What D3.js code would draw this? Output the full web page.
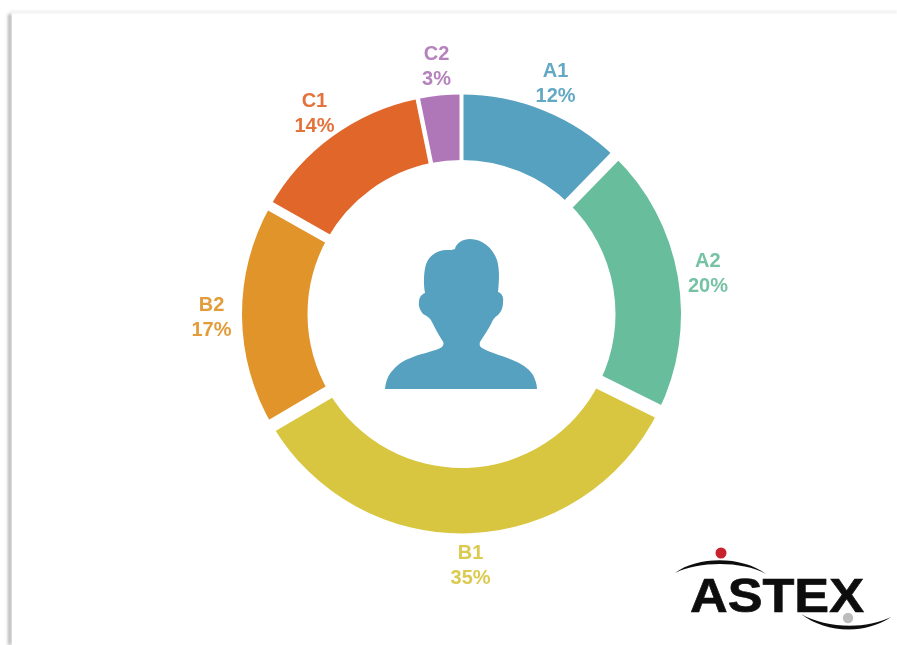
<!DOCTYPE html>
<html><head><meta charset="utf-8">
<script src="https://cdn.jsdelivr.net/npm/d3@7"></script>
<style>html,body{margin:0;padding:0;background:#fff;overflow:hidden}svg{display:block}</style>
</head><body><svg id="c" width="897" height="645"></svg>
<script>
const categories = ["A1","A2","B1","B2","C1","C2"];
const percentLabels = [12,20,35,17,14,3];
const sliceSpans = [12.28,20.03,34.22,16.64,13.64,3.19];
const colours = ["#57a1c0","#68bd9c","#d8c640","#e09429","#e1662b","#b077b8"];
const trailingGaps = [11,14,13,9.5,4.5,4];
const logoWord = "ASTEX";

const svg = d3.select("#c");
const defs = svg.append("defs");
defs.append("filter").attr("id","soft").append("feGaussianBlur").attr("stdDeviation",0.55);
defs.append("filter").attr("id","edge").append("feGaussianBlur").attr("stdDeviation",1.5);

// page edge shadow
const edge = svg.append("g").attr("filter","url(#edge)");
edge.append("rect").attr("x",8).attr("y",14).attr("width",3.5).attr("height",631).attr("fill","#b4b4b4");
edge.append("rect").attr("x",10).attr("y",11).attr("width",887).attr("height",2).attr("fill","#e8e8e8");
svg.append("rect").attr("x",12).attr("y",14).attr("width",885).attr("height",631).attr("fill","#fff");

const cx = 461.5, cy = 314, rOuter = 219.5, rInner = 154, rLabel = 250;
const pie = d3.pie().sort(null).value((d,i)=>sliceSpans[i]);
const arc = d3.arc().innerRadius(rInner).outerRadius(rOuter);
const labelArc = d3.arc().innerRadius(rLabel).outerRadius(rLabel);
const arcs = pie(categories);
const g = svg.append("g").attr("transform",`translate(${cx},${cy})`).attr("filter","url(#soft)");
g.selectAll("path.s").data(arcs).join("path").attr("class","s")
  .attr("d",arc).attr("fill",(d,i)=>colours[i]);
const radialLine = d3.lineRadial().angle(d=>d[0]).radius(d=>d[1]);
g.selectAll("path.gap").data(arcs).join("path").attr("class","gap")
  .attr("d",d=>radialLine([[d.endAngle,rInner-6],[d.endAngle,rOuter+6]]))
  .attr("stroke","#fff").attr("fill","none").attr("stroke-width",(d,i)=>trailingGaps[i]);

const lab = g.selectAll("text.l").data(arcs).join("text").attr("class","l")
  .attr("transform",d=>`translate(${labelArc.centroid(d)})`)
  .attr("text-anchor","middle")
  .attr("font-family","'Liberation Sans',Arial,sans-serif").attr("font-weight",700).attr("font-size",20)
  .attr("fill",(d,i)=>colours[i]).attr("fill-opacity",0.92);
lab.append("tspan").attr("x",0).attr("y",-5).text(d=>d.data);
lab.append("tspan").attr("x",0).attr("y",20).text((d,i)=>percentLabels[i]+"%");

// silhouette
svg.append("path").attr("filter","url(#soft)").attr("fill","#57a1c0")
 .attr("d","M385 389 C386 381 388 375 393 370 C399 363 405 360 413 357 C423 353 436 351 442 347 C444 345 444 342 442 340 C438 334 435 328 432 322 C430 318 427 316 423 314 C420 310 418 306 419 302 C419 297 422 294 425 293 C423 282 424 268 427 262 C430 255 438 250 446 250 C450 250 453 250 455 249 C456 243 463 239 470 239 C482 239 493 248 497 260 C500 270 499 283 498 292 C502 293 504 298 503 302 C503 308 501 312 498 315 C495 317 493 319 492 322 C489 329 484 335 480 342 C479 345 480 347 482 348 C490 353 505 356 517 362 C525 366 530 370 533 375 C535 379 537 384 537 389 Z");

// logo
const logo = svg.append("g").attr("filter","url(#soft)");
logo.append("circle").attr("cx",721).attr("cy",553).attr("r",5.5).attr("fill","#c8202f");
logo.append("circle").attr("cx",848).attr("cy",618).attr("r",5.2).attr("fill","#bdbdbd");
logo.append("path").attr("fill","#111").attr("d","M675 573 C698 556 742 556 766 574 C742 561 700 561 675 573 Z");
logo.append("path").attr("fill","#111").attr("d","M801 614 C825 633 865 635 891 617 C865 630 825 628 801 614 Z");
logo.append("text").attr("x",690).attr("y",612).attr("textLength",174).attr("lengthAdjust","spacingAndGlyphs")
  .attr("font-family","'Liberation Sans',Arial,sans-serif").attr("font-weight",700).attr("font-size",49)
  .attr("fill","#111").attr("stroke","#111").attr("stroke-width",0.7).text(logoWord);
</script></body></html>
